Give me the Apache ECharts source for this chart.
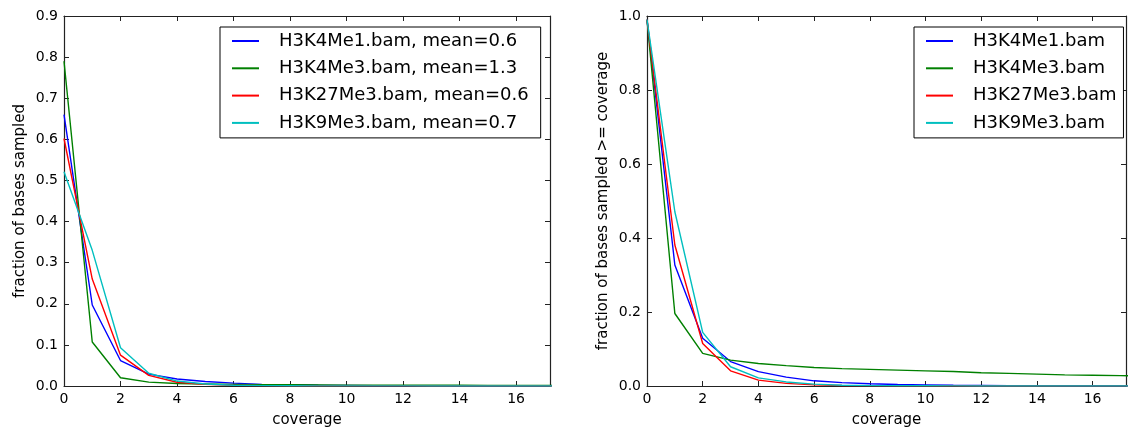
<!DOCTYPE html>
<html>
<head>
<meta charset="utf-8">
<script src="https://cdn.jsdelivr.net/npm/echarts@6/dist/echarts.min.js"></script>
<style>
html,body{margin:0;padding:0;background:#fff;}
#chart{width:1129px;height:433px;}
</style>
</head>
<body>
<div id="chart"></div>
<script>
// ---- data ----
const coverage = [0,1,2,3,4,5,6,7,8,9,10,11,12,13,14,15,16,17,18];
const sampleNames = ["H3K4Me1.bam", "H3K4Me3.bam", "H3K27Me3.bam", "H3K9Me3.bam"];
const sampleMeans = ["0.6", "1.3", "0.6", "0.7"];
const colors = ["#0000ff", "#008000", "#ff0000", "#00bfbf"];

// left panel: fraction of bases sampled at each coverage
const fracH3K4Me1  = [0.660, 0.197, 0.062, 0.029, 0.017, 0.011, 0.007, 0.004, 0.003, 0.002, 0.0015, 0.001, 0.001, 0.0008, 0.0006, 0.0005, 0.0004, 0.0003, 0.0003];
const fracH3K4Me3  = [0.790, 0.107, 0.020, 0.0095, 0.006, 0.005, 0.004, 0.003, 0.003, 0.0025, 0.0022, 0.002, 0.002, 0.0018, 0.0017, 0.0016, 0.0015, 0.0014, 0.0013];
const fracH3K27Me3 = [0.602, 0.260, 0.075, 0.026, 0.009, 0.004, 0.002, 0.001, 0.0007, 0.0005, 0.0003, 0.0002, 0.0002, 0.0001, 0.0001, 0.0001, 0.0001, 0.0001, 0.0001];
const fracH3K9Me3  = [0.521, 0.330, 0.093, 0.031, 0.012, 0.005, 0.002, 0.001, 0.0006, 0.0004, 0.0003, 0.0002, 0.0002, 0.0001, 0.0001, 0.0001, 0.0001, 0.0001, 0.0001];

// right panel: fraction of bases sampled >= coverage
const cumH3K4Me1  = [0.99, 0.327, 0.129, 0.066, 0.039, 0.024, 0.014, 0.009, 0.006, 0.004, 0.003, 0.002, 0.0015, 0.001, 0.001, 0.0008, 0.0006, 0.0005, 0.0004];
const cumH3K4Me3  = [0.99, 0.196, 0.088, 0.070, 0.061, 0.055, 0.050, 0.047, 0.045, 0.043, 0.041, 0.039, 0.036, 0.034, 0.032, 0.030, 0.029, 0.028, 0.027];
const cumH3K27Me3 = [0.99, 0.381, 0.115, 0.041, 0.016, 0.007, 0.003, 0.0015, 0.001, 0.0006, 0.0004, 0.0003, 0.0002, 0.0002, 0.0001, 0.0001, 0.0001, 0.0001, 0.0001];
const cumH3K9Me3  = [0.99, 0.471, 0.145, 0.052, 0.022, 0.011, 0.005, 0.002, 0.001, 0.0007, 0.0005, 0.0003, 0.0002, 0.0002, 0.0001, 0.0001, 0.0001, 0.0001, 0.0001];

const xTickStep = 2;
const xMax = 17.2;
const leftYMax = 0.9, leftYStep = 0.1;
const rightYMax = 1.0, rightYStep = 0.2;
const xTitle = "coverage";
const leftYTitle = "fraction of bases sampled";
const rightYTitle = "fraction of bases sampled >= coverage";

// ---- build ----
const FONT = "DejaVu Sans";
const AX = "#222";
const fracSets = [fracH3K4Me1, fracH3K4Me3, fracH3K27Me3, fracH3K9Me3];
const cumSets = [cumH3K4Me1, cumH3K4Me3, cumH3K27Me3, cumH3K9Me3];
const leftNames = sampleNames.map((n, i) => n + ", mean=" + sampleMeans[i]);

function pairs(arr){ return coverage.map((c, i) => [c, arr[i]]); }

function xAx(grid, pos, labels){
  return {
    type: 'value', gridIndex: grid, position: pos, min: 0, max: xMax, interval: xTickStep,
    name: labels ? xTitle : '', nameLocation: 'middle', nameGap: 27,
    nameTextStyle: {fontFamily: FONT, fontSize: 15, color: '#000'},
    axisLine: {show: true, onZero: false, lineStyle: {color: AX, width: 1.2}},
    axisTick: {show: true, inside: true, length: 5, lineStyle: {color: AX, width: 1}},
    axisLabel: {show: labels, margin: 6, fontFamily: FONT, fontSize: 14, color: '#000',
      formatter: v => (Math.abs(v - Math.round(v)) < 1e-6 && Math.round(v) % 2 === 0) ? String(Math.round(v)) : ''},
    splitLine: {show: false}
  };
}
function yAx(grid, pos, labels, max, step, title){
  return {
    type: 'value', gridIndex: grid, position: pos, min: 0, max: max, interval: step,
    name: labels ? title : '', nameLocation: 'middle', nameGap: 36,
    nameTextStyle: {fontFamily: FONT, fontSize: 15, color: '#000'},
    axisLine: {show: true, onZero: false, lineStyle: {color: AX, width: 1.2}},
    axisTick: {show: true, inside: true, length: 5, lineStyle: {color: AX, width: 1}},
    axisLabel: {show: labels, margin: 6, fontFamily: FONT, fontSize: 14, color: '#000',
      formatter: v => v.toFixed(1)},
    splitLine: {show: false}
  };
}

const series = [];
fracSets.forEach((arr, i) => series.push({
  type: 'line', name: leftNames[i], xAxisIndex: 0, yAxisIndex: 0,
  data: pairs(arr), showSymbol: false, symbol: 'none', clip: true,
  lineStyle: {color: colors[i], width: 1.4}, itemStyle: {color: colors[i]}
}));
cumSets.forEach((arr, i) => series.push({
  type: 'line', name: sampleNames[i], xAxisIndex: 2, yAxisIndex: 2,
  data: pairs(arr), showSymbol: false, symbol: 'none', clip: true,
  lineStyle: {color: colors[i], width: 1.4}, itemStyle: {color: colors[i]}
}));

const legendCommon = {
  orient: 'vertical', icon: 'rect', itemWidth: 27, itemHeight: 2, itemGap: 9.3,
  borderColor: '#000', borderWidth: 1, backgroundColor: '#fff', borderRadius: 0,
  textStyle: {fontFamily: FONT, fontSize: 18, color: '#000', padding: [0, 0, 0, 15]},
  selectedMode: false
};

const option = {
  animation: false,
  backgroundColor: '#fff',
  grid: [
    {left: 64, top: 16, width: 486, height: 370},
    {left: 647, top: 16, width: 486, height: 370}
  ],
  xAxis: [xAx(0, 'bottom', true), xAx(0, 'top', false), xAx(1, 'bottom', true), xAx(1, 'top', false)],
  yAxis: [
    yAx(0, 'left', true, leftYMax, leftYStep, leftYTitle), yAx(0, 'right', false, leftYMax, leftYStep, ''),
    yAx(1, 'left', true, rightYMax, rightYStep, rightYTitle), yAx(1, 'right', false, rightYMax, rightYStep, '')
  ],
  legend: [
    Object.assign({}, legendCommon, {left: 220, top: 27, padding: [5, 12, 6, 12], data: leftNames}),
    Object.assign({}, legendCommon, {left: 914, top: 27, padding: [5, 7, 6, 12], data: sampleNames})
  ],
  series: series
};

const chart = echarts.init(document.getElementById('chart'), null, {renderer: 'canvas'});
chart.setOption(option);
</script>
</body>
</html>
